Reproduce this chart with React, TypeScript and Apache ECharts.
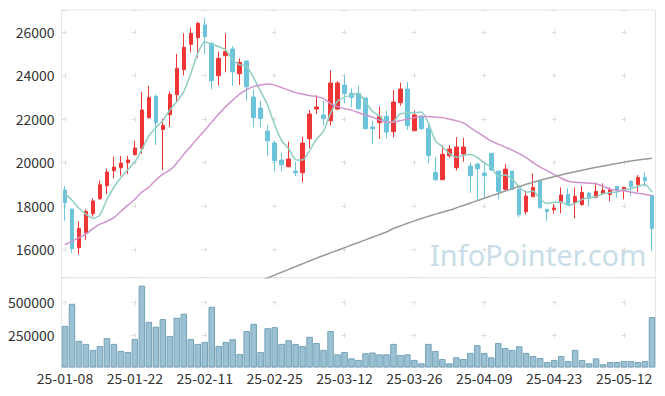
import React, { useEffect, useRef } from 'react';
import * as echarts from 'echarts';

const dates = [
  '25-01-08','25-01-09','25-01-10','25-01-13','25-01-14','25-01-15','25-01-16','25-01-17','25-01-20','25-01-21',
  '25-01-22','25-01-23','25-01-24','25-01-31','25-02-03','25-02-04','25-02-05','25-02-06','25-02-07','25-02-10',
  '25-02-11','25-02-12','25-02-13','25-02-14','25-02-17','25-02-18','25-02-19','25-02-20','25-02-21','25-02-24',
  '25-02-25','25-02-26','25-02-27','25-02-28','25-03-04','25-03-05','25-03-06','25-03-07','25-03-10','25-03-11',
  '25-03-12','25-03-13','25-03-14','25-03-17','25-03-18','25-03-19','25-03-20','25-03-21','25-03-24','25-03-25',
  '25-03-26','25-03-27','25-03-28','25-03-31','25-04-01','25-04-02','25-04-03','25-04-04','25-04-07','25-04-08',
  '25-04-09','25-04-10','25-04-11','25-04-14','25-04-15','25-04-16','25-04-17','25-04-18','25-04-21','25-04-22',
  '25-04-23','25-04-24','25-04-25','25-04-28','25-04-29','25-04-30','25-05-02','25-05-07','25-05-08','25-05-09',
  '25-05-12','25-05-13','25-05-14','25-05-15','25-05-16'
];

const opens = [
  18727,17854,16077,16766,17640,18329,18926,19616,19754,19984,
  20351,20642,22052,23032,21515,22190,23109,24258,25422,25728,
  26311,25468,23982,24901,25208,24074,24656,23001,22496,21439,
  20887,20106,19800,19600,19524,21087,22450,22174,21914,22450,
  23553,23170,23170,22955,21623,21822,22113,21408,22741,23369,
  21454,22128,21561,19539,19202,20305,19754,20382,19830,19922,
  19509,20412,19600,18758,19600,18758,17731,18421,19171,17839,
  17823,18161,18528,18145,18053,18589,18390,18559,18528,18896,
  18727,19141,18988,19309,18482
];
const closes = [
  18145,16031,16965,17747,18222,18972,19555,19784,19968,20106,
  20657,22404,22986,21822,21699,23124,24319,25284,25928,26387,
  25774,23752,24779,25100,24166,24595,23476,22052,22006,20995,
  20075,19892,20152,19524,20887,22220,22542,22006,23645,23645,
  23155,22986,22465,21546,21546,22098,21393,22772,23369,21684,
  22174,21546,20305,19202,20367,20612,20704,20704,19386,19708,
  19386,19646,18651,19692,18758,17594,18451,18850,17915,17731,
  17900,18497,18053,18436,18620,18344,18666,18712,18758,18727,
  18850,18880,19309,19156,16950
];
const lows = [
  17318,15847,15770,16429,17502,18268,18543,19263,19386,19463,
  20320,20382,22006,20795,19646,21623,22787,23997,25054,24809,
  24978,23354,23538,24135,23507,23553,22833,21607,21607,20290,
  19585,19585,19769,19371,19080,20642,22220,21684,21699,22404,
  22710,22527,22404,21515,20826,21071,21117,21148,22603,21485,
  21424,21485,19953,19156,19202,20213,19631,20029,18605,18268,
  18329,19616,18298,18697,18727,17471,17609,18421,17869,17318,
  17640,17655,18023,17425,18007,17977,18344,18543,18206,18375,
  18298,18451,18651,18880,15939
];
const highs = [
  18911,17870,17302,17839,18344,19171,19708,20259,20290,20305,
  20995,23231,23522,23124,22006,23247,24978,25928,26188,26464,
  26632,25514,25085,25928,25345,24779,24656,23354,22833,21699,
  20995,20458,20949,20029,21178,22404,23078,22833,24227,23737,
  23982,23400,23507,22955,21914,22557,22373,23323,23660,23691,
  22373,22159,21792,20213,20795,20795,21163,21117,19983,19983,
  19922,20412,19600,19922,19600,18804,18697,19493,19171,17839,
  18084,18850,18835,18850,18911,18620,19064,19034,18850,18896,
  18880,19141,19416,19539,18482
];
const volumes = [
  319000,488000,204000,181000,135000,165000,225000,181000,127000,119000,
  219000,627000,350000,312000,371000,242000,381000,412000,219000,181000,
  196000,465000,165000,196000,217000,104000,279000,335000,119000,301000,
  309000,181000,209000,181000,165000,235000,188000,135000,280000,101000,
  119000,70000,58000,109000,115000,101000,101000,181000,96000,101000,
  58000,32000,181000,127000,65000,32000,78000,65000,112000,171000,
  112000,78000,188000,150000,135000,163000,112000,88000,73000,42000,
  58000,88000,50000,135000,58000,32000,70000,25000,42000,42000,
  50000,50000,42000,50000,386000
];
// MA5 values before enough closes are in view
const ma5Head = [18561, 18262, 17894, 17618];
const ma20 = [
  16216,16377,16542,16703,16951,17158,17296,17457,17756,18032,
  18308,18630,18860,19181,19457,19641,19963,20376,20745,21113,
  21480,21848,22216,22561,22860,23136,23343,23480,23549,23595,
  23549,23434,23319,23204,23136,23066,23020,22929,22699,22561,
  22469,22400,22285,22170,22078,21940,21848,21848,21917,21986,
  22055,22101,22101,22078,22055,21986,21917,21816,21595,21388,
  21181,20974,20836,20698,20561,20400,20216,19986,19779,19618,
  19434,19273,19135,19089,19066,19043,19020,18905,18767,18721,
  18698,18629,18583,18537,18468
];
const ma120 = [
  null,null,null,null,null,null,null,null,null,null,
  null,null,null,null,null,null,null,null,null,null,
  null,null,null,null,null,null,null,null,14560,14690,
  14820,14950,15080,15210,15340,15470,15600,15720,15840,15960,
  16080,16200,16320,16440,16560,16680,16800,16960,17080,17200,
  17310,17420,17520,17620,17710,17800,17910,18020,18130,18240,
  18350,18460,18570,18680,18790,18890,18990,19090,19180,19260,
  19340,19420,19500,19570,19640,19710,19770,19830,19890,19950,
  20010,20060,20110,20150,20190
];

const FONT = '"Noto Sans CJK KR", "Noto Sans", sans-serif';

export default function App() {
  const ref = useRef<HTMLDivElement>(null);
  useEffect(() => {
    if (!ref.current) return;
    const chart = echarts.init(ref.current, undefined, { renderer: 'svg' });
    const candles = dates.map((_, i) => [opens[i], closes[i], lows[i], highs[i]]);
    const ma5 = closes.map((_, i) => {
      if (i < 4) return ma5Head[i];
      let s = 0;
      for (let k = i - 4; k <= i; k++) s += closes[k];
      return Math.round(s / 5);
    });
    const gridLine = '#dedede';
    const hSplit = { show: true, lineStyle: { color: gridLine, width: 1, type: [5, 65], dashOffset: 69.5 } };
    const labelStyle = { color: '#333', fontSize: 14, fontFamily: FONT };
    const plain = (v: number) => String(v);
    chart.setOption({
      animation: false,
      backgroundColor: '#fff',
      grid: [
        { left: 61.5, right: 9.5, top: 10, height: 267.7, show: true, borderColor: '#e6e6e6', borderWidth: 1 },
        { left: 61.5, right: 9.5, top: 277.7, height: 89.8, show: true, borderColor: '#e6e6e6', borderWidth: 1 },
      ],
      graphic: [
        {
          type: 'text', left: 430, top: 240, z: 0, silent: true,
          style: { text: 'InfoPointer.com', fill: '#c9dde8', font: '29px "Noto Sans", sans-serif' },
        },
      ],
      xAxis: [
        {
          type: 'category', gridIndex: 0, data: dates, boundaryGap: true,
          axisLine: { show: false }, axisTick: { show: false }, axisLabel: { show: false },
          splitLine: {
            show: true, alignWithLabel: true, interval: (i: number) => i % 10 === 0,
            lineStyle: { color: gridLine, width: 1, type: [5, 38.53], dashOffset: 24.3 },
          },
        },
        {
          type: 'category', gridIndex: 1, data: dates, boundaryGap: true,
          axisLine: { show: false }, axisTick: { show: false },
          axisLabel: { ...labelStyle, interval: 9, margin: 3 },
          splitLine: {
            show: true, alignWithLabel: true, interval: (i: number) => i % 10 === 0,
            lineStyle: { color: gridLine, width: 1, type: [5, 27.5], dashOffset: 10.4 },
          },
        },
      ],
      yAxis: [
        {
          type: 'value', gridIndex: 0, min: 14700, max: 27000, splitNumber: 6,
          axisLine: { show: false }, axisTick: { show: false },
          axisLabel: { ...labelStyle, margin: 7, showMinLabel: false, showMaxLabel: false, formatter: plain },
          splitLine: hSplit,
        },
        {
          type: 'value', gridIndex: 1, min: 0, max: 688000, interval: 250000,
          axisLine: { show: false }, axisTick: { show: false },
          axisLabel: { ...labelStyle, margin: 7, showMinLabel: false, showMaxLabel: false, formatter: plain },
          splitLine: hSplit,
        },
      ],
      series: [
        {
          type: 'candlestick', xAxisIndex: 0, yAxisIndex: 0, data: candles, barWidth: 4,
          itemStyle: { color: '#ef3535', color0: '#6cc4da', borderColor: '#ef3535', borderColor0: '#6cc4da', borderWidth: 1 },
        },
        { type: 'line', name: 'MA5', xAxisIndex: 0, yAxisIndex: 0, data: ma5, symbol: 'none', smooth: 0.2,
          lineStyle: { color: '#8fcfc3', width: 1.5 } },
        { type: 'line', name: 'MA20', xAxisIndex: 0, yAxisIndex: 0, data: ma20, symbol: 'none', smooth: 0.2,
          lineStyle: { color: '#cf93cc', width: 1.5 } },
        { type: 'line', name: 'MA120', xAxisIndex: 0, yAxisIndex: 0, data: ma120, symbol: 'none', smooth: 0.2,
          lineStyle: { color: '#9a9a9a', width: 1.5 } },
        {
          type: 'bar', xAxisIndex: 1, yAxisIndex: 1, data: volumes, barWidth: 6.5,
          itemStyle: { color: '#9bc1d2', borderColor: '#73a2b8', borderWidth: 1 },
        },
      ],
    });
    return () => chart.dispose();
  }, []);
  return <div ref={ref} style={{ position: 'fixed', left: 0, top: 0, width: 665, height: 396 }} />;
}
